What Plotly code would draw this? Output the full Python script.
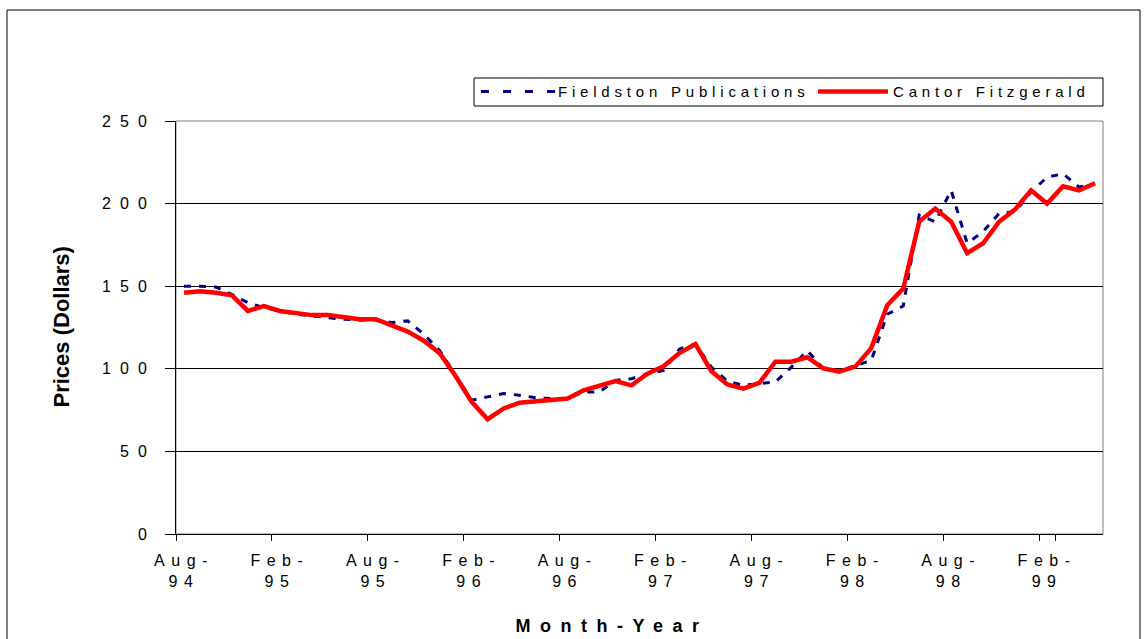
import plotly.graph_objects as go

# ---------------- data ----------------
month_names = ["Jan", "Feb", "Mar", "Apr", "May", "Jun",
               "Jul", "Aug", "Sep", "Oct", "Nov", "Dec"]
months = []
for yr in range(94, 100):
    for mn in month_names:
        months.append(f"{mn}-{yr:02d}")
months = months[months.index("Aug-94"):months.index("May-99") + 1]

fieldston = [150, 150, 149.5, 145, 140, 137, 135, 133, 132, 131,
             130, 129.5, 129.5, 128, 129, 121, 111, 96, 81, 83,
             85, 84, 82.5, 82, 82, 86, 86, 93, 94, 97,
             99, 112, 115, 101, 92.5, 90, 91, 92, 101, 111,
             100, 98.5, 102, 105, 133, 138, 193, 189, 208, 176,
             183, 194, 195, 207, 216, 218, 210, 212]

cantor = [146, 147, 146, 144.5, 135, 138, 135, 133.5, 132.5, 132.5,
          131, 130, 130, 126, 122.5, 117, 109.5, 95.5, 80, 69.5,
          76, 79.5, 80.5, 81, 82, 87, 90, 92.5, 90, 97,
          101.5, 109.5, 115, 98.5, 90.5, 88, 91.5, 104.3, 104.3, 107,
          100.3, 98.3, 101.3, 112.5, 138.5, 148.5, 189, 197, 189, 170,
          176, 189, 196.5, 208, 200, 210.5, 208, 212.3]

tick_months = months[::6]
tick_labels = [m.replace("-", "-<br>") for m in tick_months]
y_ticks = [0, 50, 100, 150, 200, 250]

series_names = ["Fieldston Publications", "Cantor Fitzgerald"]

# ---------------- figure ----------------
FONT = "Liberation Sans, Arial, sans-serif"
W, H = 1145, 639
ML, MR, MT, MB = 176, 42, 121, 105
PW, PH = W - ML - MR, H - MT - MB


def px(xpix):
    return (xpix - ML) / PW


def py(ypix):
    return (H - MB - ypix) / PH


fig = go.Figure()
fig.add_trace(go.Scatter(x=months, y=fieldston, mode="lines", name=series_names[0],
                         line=dict(color="#000080", width=3, dash="7px,8px"),
                         showlegend=False))
fig.add_trace(go.Scatter(x=months, y=cantor, mode="lines", name=series_names[1],
                         line=dict(color="#FF0000", width=4.5),
                         showlegend=False))

fig.update_layout(
    width=W, height=H,
    margin=dict(l=ML, r=MR, t=MT, b=MB, pad=0),
    paper_bgcolor="white", plot_bgcolor="white",
    font=dict(family=FONT, color="black", size=16),
    showlegend=False,
)

fig.update_xaxes(
    type="category", range=[-0.5, len(months) - 0.5],
    tickmode="array", tickvals=tick_months, ticktext=tick_labels,
    tickangle=0,
    tickson="boundaries", ticks="outside", ticklen=6, tickcolor="black", tickwidth=1,
    ticklabelstandoff=12,
    showgrid=False, showline=True, linecolor="black", linewidth=1,
    tickfont=dict(family=FONT, size=16, color="black"),
    zeroline=False,
)
fig.update_yaxes(
    range=[0, 250], tickmode="array", tickvals=y_ticks,
    ticks="outside", ticklen=10, tickcolor="black", tickwidth=1,
    ticklabelstandoff=6,
    showgrid=True, gridcolor="black", gridwidth=1,
    showline=True, linecolor="black", linewidth=1,
    tickfont=dict(family=FONT, size=16, color="black"),
    zeroline=False,
)

shapes = [
    # outer chart frame
    dict(type="rect", xref="paper", yref="paper",
         x0=px(7), x1=px(1140), y0=py(660), y1=py(10),
         line=dict(color="black", width=1), fillcolor="rgba(0,0,0,0)", layer="below"),
    # plot area border (top/right)
    dict(type="rect", xref="paper", yref="paper", x0=0, x1=1, y0=0, y1=1,
         line=dict(color="#808080", width=1), fillcolor="rgba(0,0,0,0)", layer="below"),
    # legend box
    dict(type="rect", xref="paper", yref="paper",
         x0=px(474), x1=px(1103), y0=py(106), y1=py(78),
         line=dict(color="black", width=1), fillcolor="white"),
    # legend samples
    dict(type="line", xref="paper", yref="paper",
         x0=px(481), x1=px(556), y0=py(91.5), y1=py(91.5),
         line=dict(color="#000080", width=3, dash="8px,14px")),
    dict(type="line", xref="paper", yref="paper",
         x0=px(818), x1=px(888), y0=py(91.5), y1=py(91.5),
         line=dict(color="#FF0000", width=4.5)),
]

annotations = [
    dict(text="<b>Month-Year</b>", xref="paper", yref="paper",
         x=px(612), y=py(626), xanchor="center", yanchor="middle", showarrow=False,
         font=dict(family=FONT, size=18, color="black")),
    dict(text="<b>Prices (Dollars)</b>", xref="paper", yref="paper",
         x=px(61), y=0.5, xanchor="center", yanchor="middle", showarrow=False,
         textangle=-90, font=dict(family=FONT, size=22, color="black")),
    dict(text=series_names[0], xref="paper", yref="paper",
         x=px(556), y=py(91.5), xanchor="left", yanchor="middle", align="left",
         showarrow=False, font=dict(family=FONT, size=15, color="black")),
    dict(text=series_names[1], xref="paper", yref="paper",
         x=px(891), y=py(91.5), xanchor="left", yanchor="middle", align="left",
         showarrow=False, font=dict(family=FONT, size=15, color="black")),
]

fig.update_layout(shapes=shapes, annotations=annotations)

post = """
var s = document.createElement('style');
s.innerHTML = "body{margin:0;padding:0;overflow:hidden;}" +
  " .xtick text{letter-spacing:6.5px;}" +
  " .ytick text{letter-spacing:9px;}" +
  " g.annotation[data-index='0'] text{letter-spacing:9.5px;}" +
  " g.annotation[data-index='2'] text, g.annotation[data-index='3'] text{letter-spacing:4.8px;}";
document.head.appendChild(s);
"""

fig.write_html("out.html", post_script=post, config={"displayModeBar": False})
